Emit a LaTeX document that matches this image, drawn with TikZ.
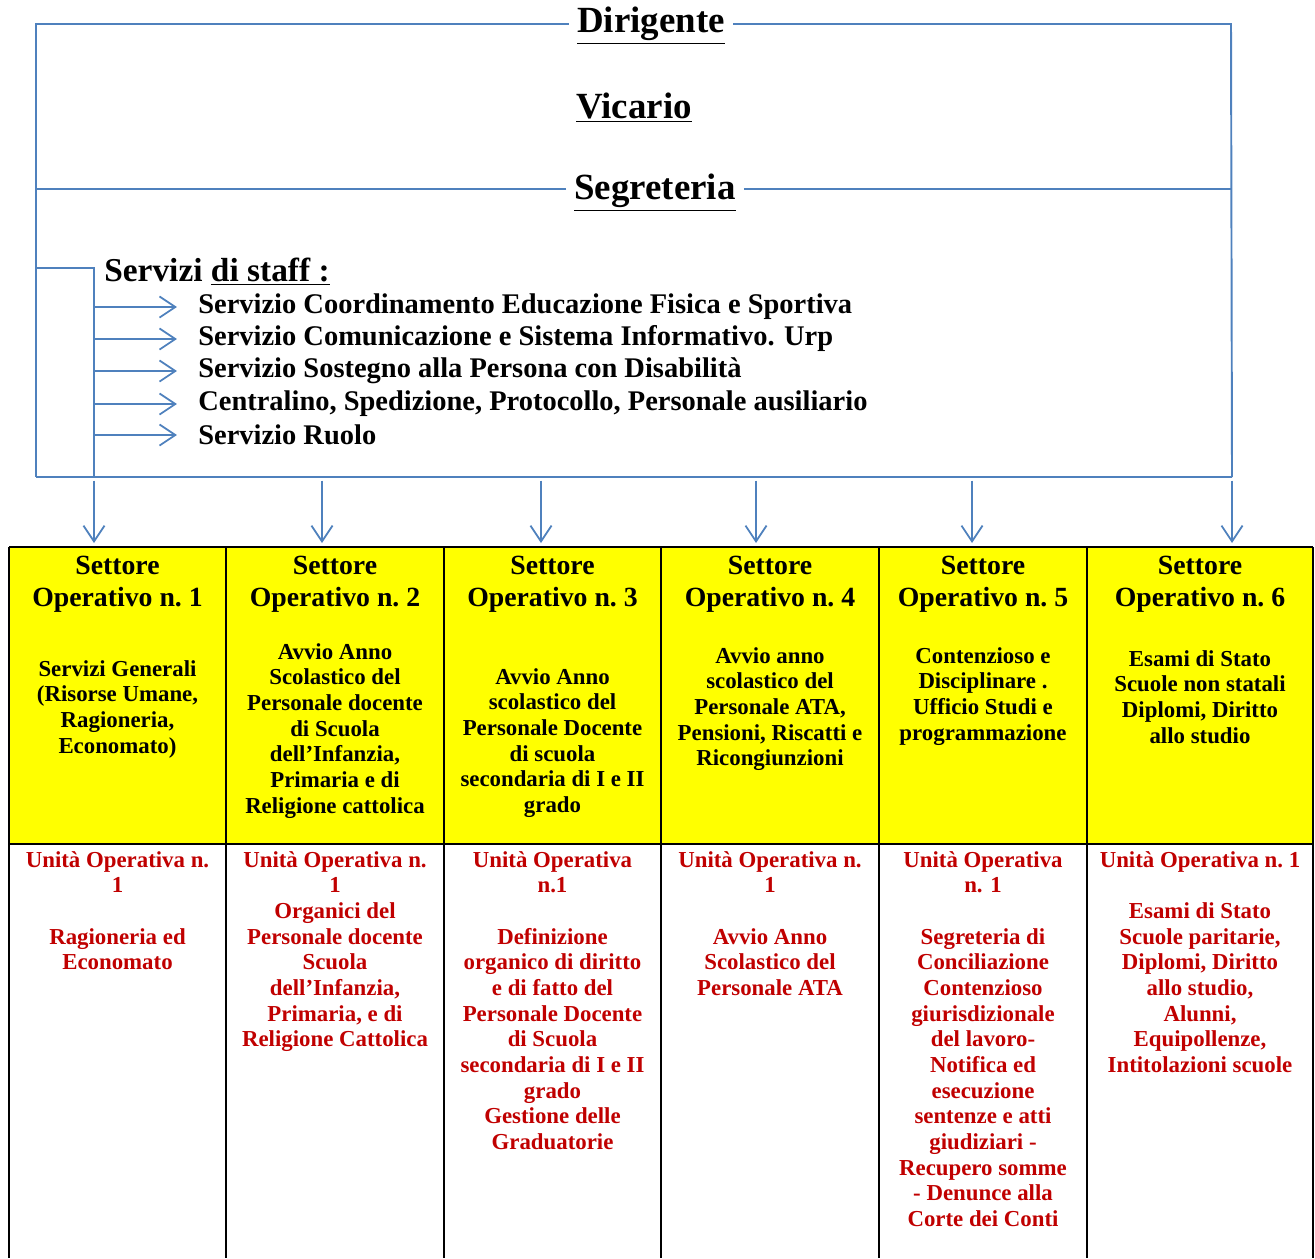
\documentclass[tikz,border=0pt]{standalone}
\usepackage{fontspec}
\setmainfont{Liberation Serif}
\usetikzlibrary{arrows.meta}

\definecolor{lineblue}{HTML}{4F81BD}
\definecolor{unitred}{HTML}{C00000}
\definecolor{settoreyellow}{HTML}{FFFF00}

\tikzset{
	blueline/.style={lineblue,line width=1.1pt},
	bluearrow/.style={blueline,-{Straight Barb[length=9pt,width=12pt,line width=1pt]}},
	tableline/.style={black,line width=1.4pt},
	headtext/.style={inner xsep=4.5pt,inner ysep=2pt,font=\fontsize{21}{24}\selectfont\bfseries},
	stafftext/.style={anchor=west,inner sep=0pt,font=\fontsize{16.2}{18}\selectfont\bfseries},
	settoretitle/.style={anchor=north,inner sep=0pt,align=center,font=\fontsize{15.8}{18.1}\selectfont\bfseries},
	settorebody/.style={anchor=north,inner sep=0pt,align=center,font=\fontsize{13}{14.6}\selectfont\bfseries},
	unitbody/.style={settorebody,text=unitred}
}

\begin{document}
\begin{tikzpicture}[x=0.02cm,y=-0.02cm]
	\useasboundingbox (0,0) rectangle (1315,1258);
	
	% frame corners
	\coordinate (tl) at (36,24);
	\coordinate (tr) at (1231,24);
	\coordinate (ml) at (36,189);
	\coordinate (mr) at (1231,189);
	\coordinate (bl) at (36,477);
	\coordinate (br) at (1232,477);
	\coordinate (sb) at (94,268);
	
	\node[headtext] (dir) at (651,26) {\underline{Dirigente}};
	\node[headtext] (vic) at (634,108) {\underline{Vicario}};
	\node[headtext] (seg) at (655,193) {\underline{Segreteria}};
	
	\draw[blueline] (dir.west |- tl) -- (tl) -- (bl);
	\draw[blueline] (dir.east |- tr) -- (tr) -- (br);
	\draw[blueline] (seg.west |- ml) -- (ml);
	\draw[blueline] (seg.east |- mr) -- (mr);
	\draw[blueline] (bl) -- (br);
	
	% servizi di staff
	\node[stafftext,font=\fontsize{19}{22}\selectfont\bfseries] (staff) at (104,272) {Servizi \underline{di staff :}};
	\draw[blueline] (sb -| tl) -- (sb) -- (sb |- bl);
	\foreach \i/\y/\txt in {1/307/Servizio Coordinamento Educazione Fisica e Sportiva,
		2/339/Servizio Comunicazione e Sistema Informativo. Urp,
		3/371/Servizio Sostegno alla Persona con Disabilità,
		4/404/{Centralino, Spedizione, Protocollo, Personale ausiliario},
		5/435/Servizio Ruolo}{
		\node[stafftext] (st\i) at (198,\y) {\txt};
		\draw[bluearrow] (st\i.west -| sb) -- ([xshift=-12pt]st\i.west);
	}
	
	% tabella dei settori
	\fill[settoreyellow] (9,547) rectangle (1313,844);
	\draw[tableline] (9,547) -- (1313,547);
	\draw[tableline] (9,844) -- (1313,844);
	\foreach \x in {9,226,444,661,879,1087,1313}
		\draw[tableline] (\x,547) -- (\x,1258);
	
	% frecce verso i settori
	\foreach \i/\x in {1/94,2/322,3/541,4/756,5/972,6/1232}{
		\coordinate (a\i) at (\x,543);
		\draw[bluearrow] ([yshift=-2pt]a\i |- bl) -- (a\i);
	}
	
	\foreach \i/\x in {1/117.5,2/335,3/552.5,4/770,5/983,6/1200}
		\node[settoretitle] (t\i) at (\x,556) {Settore\\Operativo n.~\i};
	
	\node[settorebody] (b1) at (117.5,660) {Servizi Generali\\(Risorse Umane,\\Ragioneria,\\Economato)};
	\node[settorebody] (b2) at (335,643) {Avvio Anno\\Scolastico del\\Personale docente\\di Scuola\\dell’Infanzia,\\Primaria e di\\Religione cattolica};
	\node[settorebody] (b3) at (552.5,668) {Avvio Anno\\scolastico del\\Personale Docente\\di scuola\\secondaria di I e II\\grado};
	\node[settorebody] (b4) at (770,647) {Avvio anno\\scolastico del\\Personale ATA,\\Pensioni, Riscatti e\\Ricongiunzioni};
	\node[settorebody] (b5) at (983,647) {Contenzioso e\\Disciplinare .\\Ufficio Studi e\\programmazione};
	\node[settorebody] (b6) at (1200,650) {Esami di Stato\\Scuole non statali\\Diplomi, Diritto\\allo studio};
	
	% unita operative
	\node[unitbody] (u1) at (117.5,851) {Unità Operativa n.\\1\\\mbox{}\\Ragioneria ed\\Economato};
	\node[unitbody] (u2) at (335,851) {Unità Operativa n.\\1\\Organici del\\Personale docente\\Scuola\\dell’Infanzia,\\Primaria, e di\\Religione Cattolica};
	\node[unitbody] (u3) at (552.5,851) {Unità Operativa\\n.1\\\mbox{}\\Definizione\\organico di diritto\\e di fatto del\\Personale Docente\\di Scuola\\secondaria di I e II\\grado\\Gestione delle\\Graduatorie};
	\node[unitbody] (u4) at (770,851) {Unità Operativa n.\\1\\\mbox{}\\Avvio Anno\\Scolastico del\\Personale ATA};
	\node[unitbody] (u5) at (983,851) {Unità Operativa\\n. 1\\\mbox{}\\Segreteria di\\Conciliazione\\Contenzioso\\giurisdizionale\\del lavoro-\\Notifica ed\\esecuzione\\sentenze e atti\\giudiziari -\\Recupero somme\\- Denunce alla\\Corte dei Conti};
	\node[unitbody] (u6) at (1200,851) {Unità Operativa n.~1\\\mbox{}\\Esami di Stato\\Scuole paritarie,\\Diplomi, Diritto\\allo studio,\\Alunni,\\Equipollenze,\\Intitolazioni scuole};
\end{tikzpicture}
\end{document}
